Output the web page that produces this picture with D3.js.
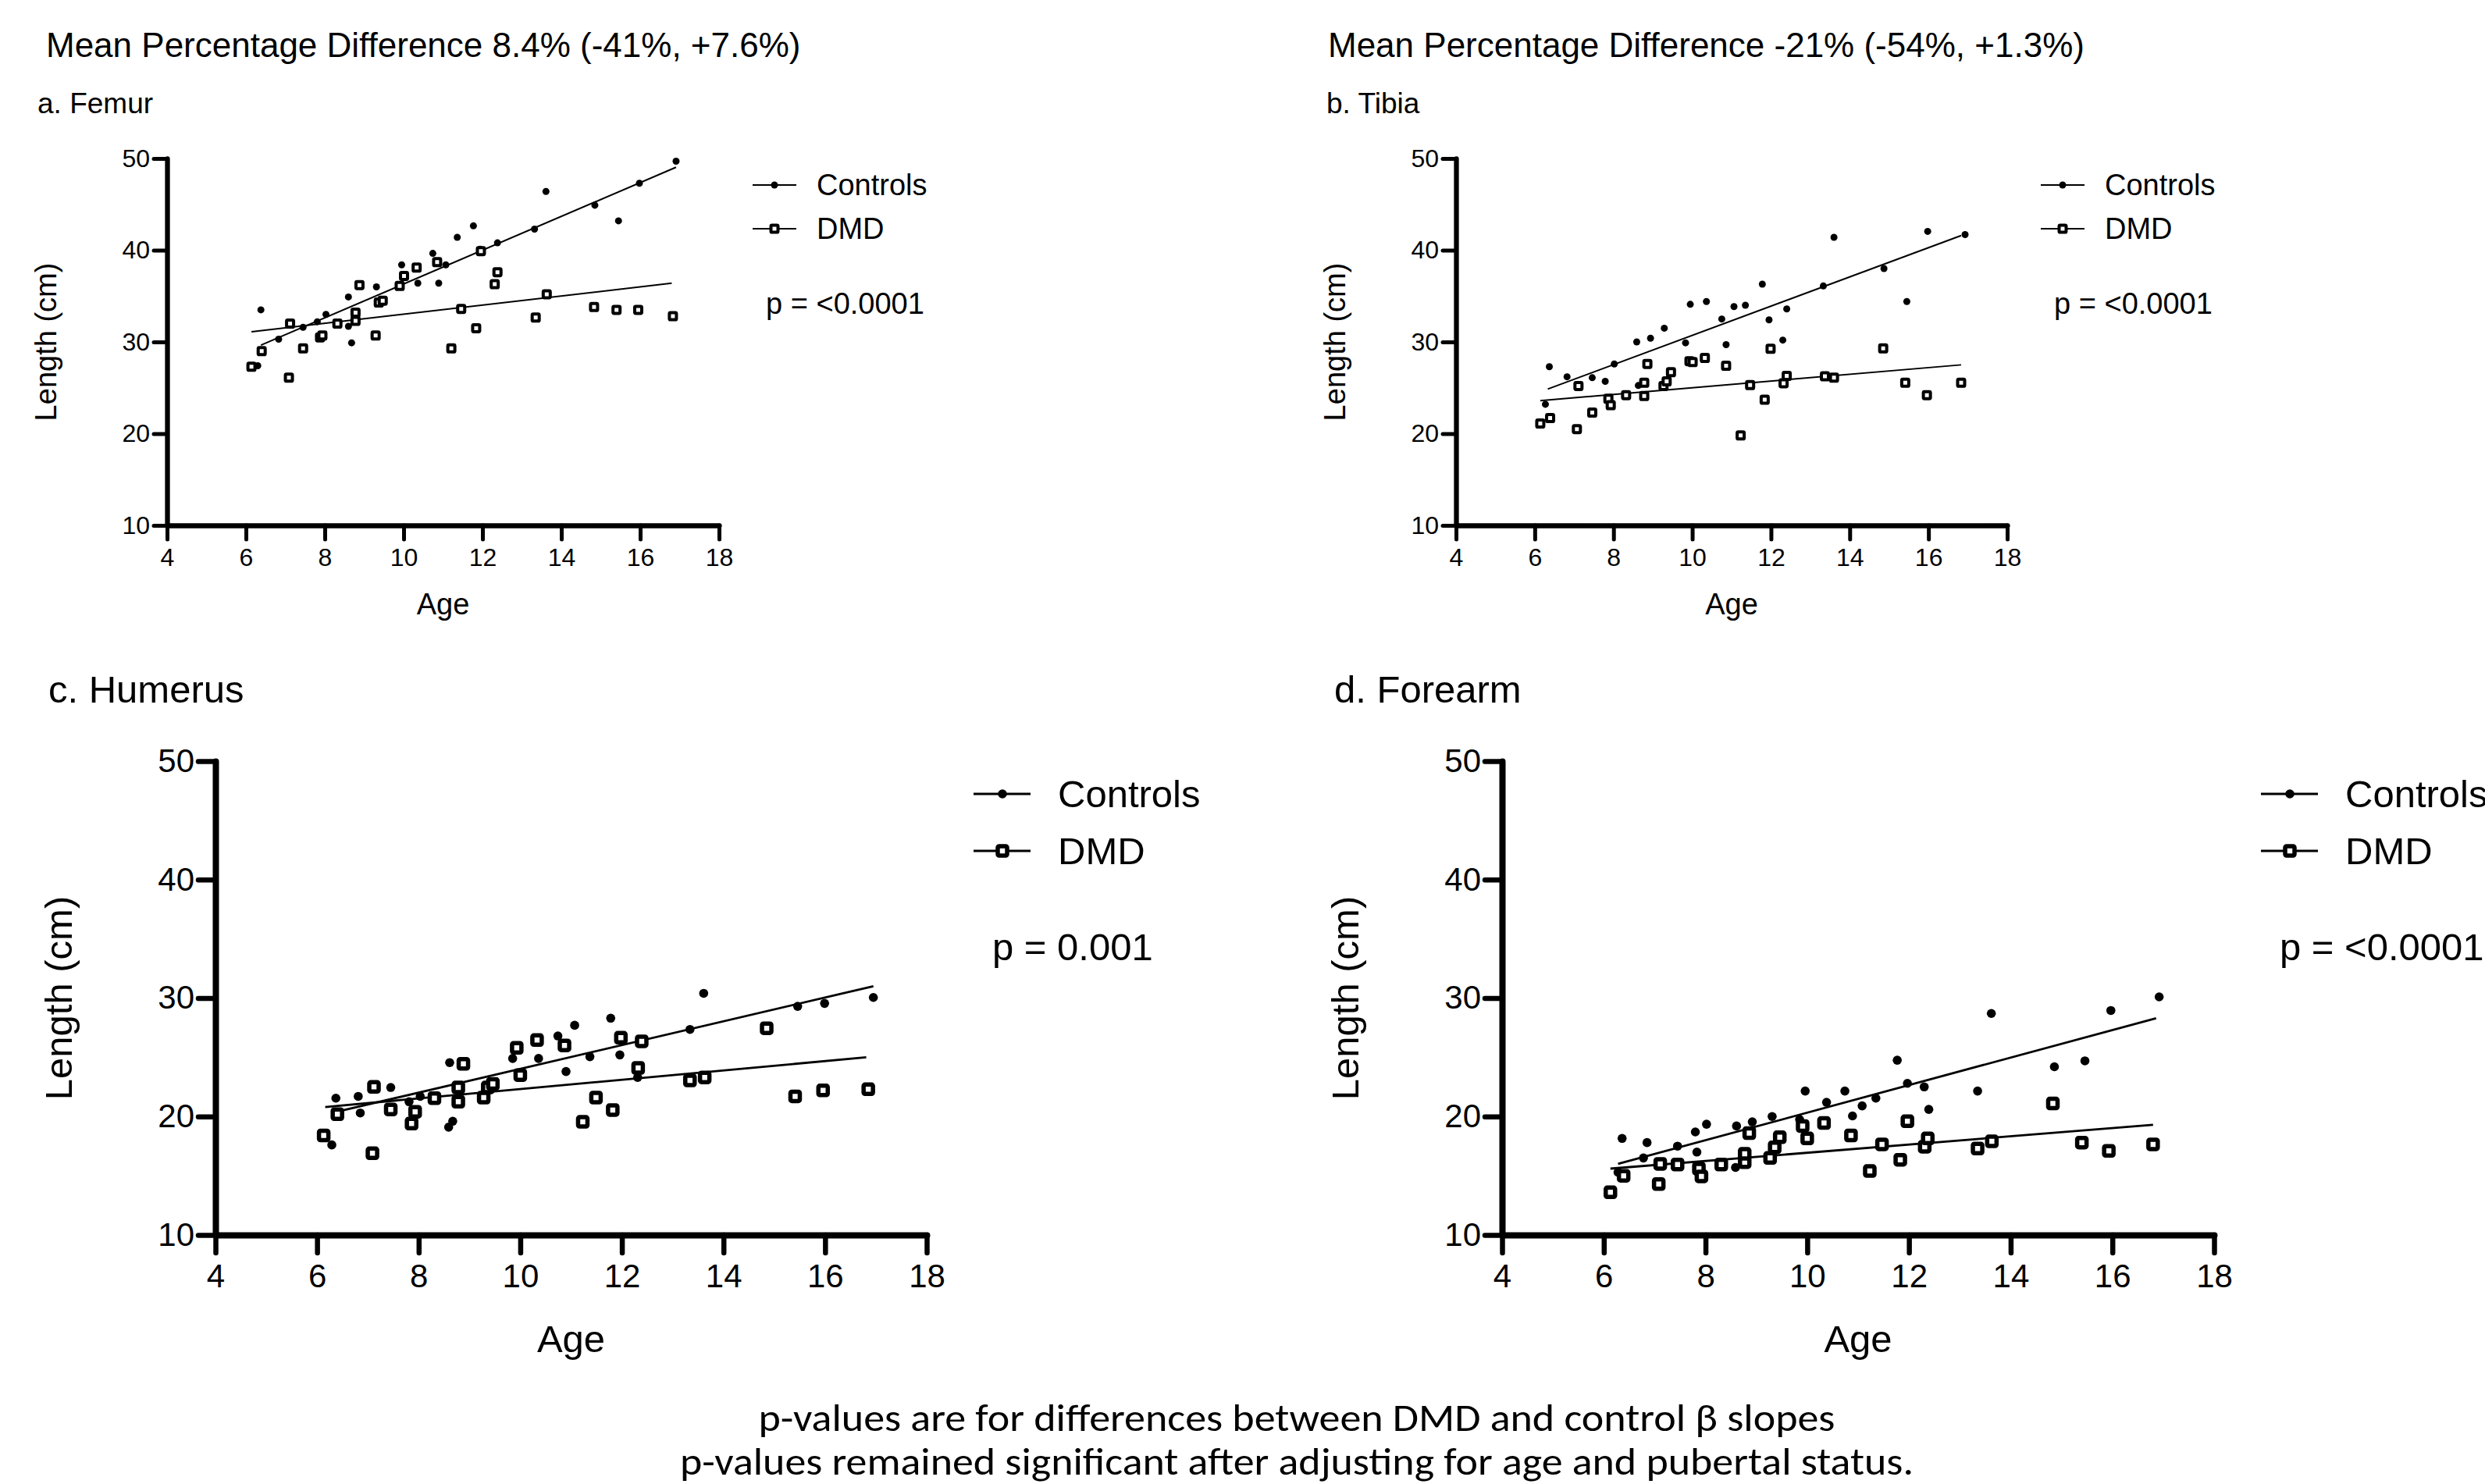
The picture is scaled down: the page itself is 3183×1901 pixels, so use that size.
<!DOCTYPE html>
<html>
<head>
<meta charset="utf-8">
<script src="https://cdn.jsdelivr.net/npm/d3@7"></script>
<style>
  body { margin: 0; background: #fff; }
  svg { display: block; }
</style>
</head>
<body>
<svg id="chart" width="3183" height="1901"></svg>
<script>
"use strict";

// ---- data: [age, length cm] ----
var xTicks = [4, 6, 8, 10, 12, 14, 16, 18];
var yTicks = [10, 20, 30, 40, 50];
var seriesNames = ["Controls", "DMD"];
var panelLabels = ["a. Femur", "b. Tibia", "c. Humerus", "d. Forearm"];
var headers = [
  "Mean Percentage Difference 8.4% (-41%, +7.6%)",
  "Mean Percentage Difference -21% (-54%, +1.3%)"
];
var pValues = ["p = <0.0001", "p = <0.0001", "p = 0.001", "p = <0.0001"];
var notes = [
  "p-values are for differences between DMD and control \u03b2 slopes",
  "p-values remained significant after adjusting for age and pubertal status."
];

var femurControls = [
  [6.3, 27.4], [6.38, 33.5], [6.83, 30.3], [7.45, 31.6], [7.81, 32.2], [8.03, 33.0],
  [8.6, 34.9], [8.6, 31.7], [8.68, 29.9], [9.31, 36.0], [9.95, 38.4], [10.36, 36.4],
  [10.74, 39.65], [10.89, 36.4], [11.07, 38.4], [11.36, 41.4], [11.77, 42.65],
  [11.94, 40.1], [12.38, 40.8], [13.32, 42.3], [13.61, 46.4], [14.85, 44.9],
  [15.45, 43.2], [15.98, 47.3], [16.91, 49.7]
];
var femurDMD = [
  [6.14, 27.3], [6.4, 29.0], [7.09, 26.1], [7.12, 32.0], [7.45, 29.3], [7.88, 30.5],
  [7.94, 30.7], [8.32, 32.0], [8.78, 32.3], [8.78, 33.2], [8.88, 36.2], [9.29, 30.7],
  [9.37, 34.3], [9.47, 34.5], [9.9, 36.1], [10.01, 37.2], [10.33, 38.1], [10.85, 38.7],
  [11.21, 29.3], [11.46, 33.6], [11.84, 31.5], [11.96, 39.9], [12.31, 36.3],
  [12.38, 37.6], [13.35, 32.65], [13.63, 35.2], [14.83, 33.8], [15.4, 33.5],
  [15.95, 33.5], [16.83, 32.8]
];
var femurFitControls = [[6.38, 29.65], [16.91, 49.04]];
var femurFitDMD = [[6.14, 31.1], [16.8, 36.4]];

var tibiaControls = [
  [6.37, 27.3], [6.27, 23.2], [6.82, 26.2], [7.46, 26.1], [7.79, 25.7], [8.02, 27.6],
  [8.59, 30.0], [8.63, 25.25], [8.94, 30.4], [9.29, 31.5], [9.83, 29.9], [9.95, 34.1],
  [10.36, 34.4], [10.75, 32.5], [10.86, 29.7], [11.06, 33.85], [11.35, 34.0],
  [11.78, 36.3], [11.95, 32.4], [12.3, 30.2], [12.4, 33.6], [13.33, 36.1],
  [13.6, 41.4], [14.87, 38.0], [15.45, 34.4], [15.98, 42.05], [16.93, 41.7]
];
var tibiaDMD = [
  [6.14, 21.1], [6.39, 21.7], [7.07, 20.5], [7.11, 25.2], [7.46, 22.3], [7.87, 23.8],
  [7.93, 23.1], [8.32, 24.2], [8.78, 24.1], [8.78, 25.55], [8.86, 27.6], [9.27, 25.2],
  [9.35, 25.7], [9.46, 26.7], [9.93, 27.9], [10.01, 27.8], [10.32, 28.25],
  [10.86, 27.4], [11.23, 19.8], [11.47, 25.3], [11.84, 23.7], [11.99, 29.25],
  [12.32, 25.5], [12.4, 26.3], [13.37, 26.25], [13.6, 26.1], [14.85, 29.3],
  [15.41, 25.55], [15.96, 24.2], [16.83, 25.55]
];
var tibiaFitControls = [[6.33, 24.86], [16.83, 41.6]];
var tibiaFitDMD = [[6.14, 23.6], [16.83, 27.5]];

var humerusControls = [
  [6.37, 21.55], [6.29, 17.6], [6.81, 21.7], [6.85, 20.3], [7.45, 22.45], [7.81, 21.25],
  [8.03, 21.7], [8.61, 24.55], [8.59, 19.1], [8.67, 19.6], [9.85, 24.9], [10.36, 24.9],
  [10.74, 26.8], [10.9, 23.8], [11.07, 27.7], [11.37, 25.05], [11.78, 28.3],
  [11.96, 25.2], [12.31, 23.3], [13.34, 27.35], [13.61, 30.4], [15.46, 29.3],
  [15.99, 29.55], [16.95, 30.05]
];
var humerusDMD = [
  [6.13, 18.4], [6.4, 20.2], [7.09, 16.9], [7.12, 22.5], [7.45, 20.6], [7.86, 19.4],
  [7.93, 20.4], [8.31, 21.55], [8.78, 21.25], [8.78, 22.45], [8.88, 24.45], [9.28, 21.6],
  [9.36, 22.45], [9.46, 22.75], [9.93, 25.8], [10.0, 23.5], [10.33, 26.45],
  [10.87, 26.0], [11.23, 19.55], [11.49, 21.6], [11.82, 20.55], [11.98, 26.65],
  [12.32, 24.1], [12.39, 26.35], [13.34, 23.05], [13.63, 23.3], [14.85, 27.45],
  [15.41, 21.7], [15.96, 22.2], [16.85, 22.3]
];
var humerusFitControls = [[6.29, 20.3], [16.95, 31.0]];
var humerusFitDMD = [[6.16, 20.8], [16.81, 25.0]];

var forearmControls = [
  [6.36, 18.15], [6.28, 15.3], [6.78, 16.5], [6.85, 17.8], [7.45, 17.5], [7.8, 18.7],
  [7.83, 17.0], [8.02, 19.35], [8.59, 15.7], [8.61, 19.2], [8.92, 19.55], [9.31, 20.0],
  [9.85, 19.75], [9.96, 22.15], [10.38, 21.2], [10.74, 22.15], [10.89, 20.05],
  [11.08, 20.9], [11.35, 21.55], [11.77, 24.75], [11.97, 22.8], [12.3, 22.5],
  [12.39, 20.6], [13.35, 22.15], [13.62, 28.7], [14.86, 24.2], [15.46, 24.7],
  [15.97, 28.95], [16.92, 30.1]
];
var forearmDMD = [
  [6.13, 13.6], [6.39, 15.0], [7.08, 14.3], [7.11, 16.0], [7.45, 15.95], [7.87, 15.6],
  [7.92, 14.95], [8.31, 15.95], [8.77, 16.15], [8.77, 16.85], [8.86, 18.6], [9.27, 16.5],
  [9.36, 17.4], [9.46, 18.25], [9.91, 19.2], [10.0, 18.15], [10.33, 19.45],
  [10.86, 18.4], [11.23, 15.4], [11.47, 17.65], [11.83, 16.35], [11.97, 19.6],
  [12.31, 17.45], [12.37, 18.15], [13.35, 17.3], [13.63, 17.9], [14.83, 21.1],
  [15.4, 17.8], [15.93, 17.1], [16.8, 17.65]
];
var forearmFitControls = [[6.28, 16.0], [16.86, 28.3]];
var forearmFitDMD = [[6.13, 15.6], [16.8, 19.3]];

// ---- look ----
var FONT = "'Liberation Sans', Arial, Helvetica, sans-serif";

var small = {
  tick: 17, tickW: 5, axisW: 6.3, tickFont: 32, labelFont: 38, legendFont: 38,
  r: 4.5, sq: 9, sqW: 4, fitW: 2, yPad: 5, xPad: 11,
  yLabOff: 142, xLabOff: 114, labelFontTitle: 37,
  leg: { l0: 43, l1: 99, m: 71, t: 125, r0: 34, r1: 90, px: 60, py: 199 }
};
var large = {
  tick: 22, tickW: 6.5, axisW: 8, tickFont: 42, labelFont: 49, legendFont: 49,
  r: 5.8, sq: 12, sqW: 5.5, fitW: 2.8, yPad: 5, xPad: 14,
  yLabOff: 184, xLabOff: 150, labelFontTitle: 49,
  leg: { l0: 60, l1: 133, m: 97, t: 168, r0: 42, r1: 115, px: 84, py: 255 }
};

var panels = [
  { left: 214, right: 921, top: 203, bottom: 673, st: small, lab: [48, 145],
    controls: femurControls, dmd: femurDMD, fitC: femurFitControls, fitD: femurFitDMD },
  { left: 1865, right: 2571, top: 203, bottom: 673, st: small, lab: [1699, 145],
    controls: tibiaControls, dmd: tibiaDMD, fitC: tibiaFitControls, fitD: tibiaFitDMD },
  { left: 276, right: 1187, top: 975, bottom: 1582, st: large, lab: [62, 900],
    controls: humerusControls, dmd: humerusDMD, fitC: humerusFitControls, fitD: humerusFitDMD },
  { left: 1924, right: 2836, top: 975, bottom: 1582, st: large, lab: [1709, 900],
    controls: forearmControls, dmd: forearmDMD, fitC: forearmFitControls, fitD: forearmFitDMD }
];

var svg = d3.select("#chart");
svg.append("rect").attr("width", 3183).attr("height", 1901).attr("fill", "#fff");

function dotMarker(g, cx, cy, st) {
  g.append("circle").attr("cx", cx).attr("cy", cy).attr("r", st.r).attr("fill", "#000");
}
function squareMarker(g, cx, cy, st) {
  g.append("rect")
    .attr("x", cx - st.sq / 2).attr("y", cy - st.sq / 2)
    .attr("width", st.sq).attr("height", st.sq)
    .attr("rx", st.sq * 0.15)
    .attr("fill", "#fff").attr("stroke", "#000").attr("stroke-width", st.sqW);
}

function drawPanel(p, i) {
  var st = p.st;
  var g = svg.append("g").attr("class", "panel");
  var x = d3.scaleLinear().domain([4, 18]).range([p.left, p.right]);
  var y = d3.scaleLinear().domain([10, 50]).range([p.bottom, p.top]);

  // panel label
  g.append("text").attr("x", p.lab[0]).attr("y", p.lab[1])
    .attr("font-family", FONT).attr("font-size", st.labelFontTitle)
    .text(panelLabels[i]);

  // axes
  var ya = g.append("g").attr("transform", "translate(" + p.left + ",0)")
    .call(d3.axisLeft(y).tickValues(yTicks).tickSize(st.tick).tickSizeOuter(0).tickPadding(st.yPad));
  var xa = g.append("g").attr("transform", "translate(0," + p.bottom + ")")
    .call(d3.axisBottom(x).tickValues(xTicks).tickSize(st.tick + 1).tickSizeOuter(0).tickPadding(st.xPad));
  [ya, xa].forEach(function (a) {
    a.attr("font-family", FONT).attr("font-size", st.tickFont);
    a.select(".domain").attr("stroke", "#000").attr("stroke-width", st.axisW)
      .attr("stroke-linecap", "round");
    a.selectAll(".tick line").attr("stroke", "#000").attr("stroke-width", st.tickW)
      .attr("stroke-linecap", "round");
    a.selectAll(".tick text").attr("fill", "#000");
  });

  // axis titles
  g.append("text")
    .attr("transform", "translate(" + (p.left - st.yLabOff) + "," + ((p.top + p.bottom) / 2) + ") rotate(-90)")
    .attr("text-anchor", "middle")
    .attr("font-family", FONT).attr("font-size", st.labelFont)
    .text("Length (cm)");
  g.append("text")
    .attr("x", (p.left + p.right) / 2).attr("y", p.bottom + st.xLabOff)
    .attr("text-anchor", "middle")
    .attr("font-family", FONT).attr("font-size", st.labelFont)
    .text("Age");

  // regression lines
  var line = d3.line().x(function (d) { return x(d[0]); }).y(function (d) { return y(d[1]); });
  [p.fitC, p.fitD].forEach(function (f) {
    g.append("path").datum(f).attr("d", line)
      .attr("fill", "none").attr("stroke", "#000").attr("stroke-width", st.fitW);
  });

  // points
  g.append("g").selectAll("circle").data(p.controls).join("circle")
    .attr("cx", function (d) { return x(d[0]); })
    .attr("cy", function (d) { return y(d[1]); })
    .attr("r", st.r).attr("fill", "#000");
  g.append("g").selectAll("rect").data(p.dmd).join("rect")
    .attr("x", function (d) { return x(d[0]) - st.sq / 2; })
    .attr("y", function (d) { return y(d[1]) - st.sq / 2; })
    .attr("width", st.sq).attr("height", st.sq).attr("rx", st.sq * 0.15)
    .attr("fill", "#fff").attr("stroke", "#000").attr("stroke-width", st.sqW);

  // legend
  var L = st.leg;
  seriesNames.forEach(function (name, k) {
    var ry = p.top + (k === 0 ? L.r0 : L.r1);
    g.append("line").attr("x1", p.right + L.l0).attr("x2", p.right + L.l1)
      .attr("y1", ry).attr("y2", ry).attr("stroke", "#000").attr("stroke-width", st.fitW);
    if (k === 0) dotMarker(g, p.right + L.m, ry, st);
    else squareMarker(g, p.right + L.m, ry, st);
    g.append("text").attr("x", p.right + L.t).attr("y", ry).attr("dy", "0.35em")
      .attr("font-family", FONT).attr("font-size", st.legendFont).text(name);
  });
  g.append("text").attr("x", p.right + L.px).attr("y", p.top + L.py)
    .attr("font-family", FONT).attr("font-size", st.legendFont).text(pValues[i]);
}

panels.forEach(drawPanel);

// header lines above the top panels
svg.append("text").attr("x", 59).attr("y", 73)
  .attr("font-family", FONT).attr("font-size", 44).text(headers[0]);
svg.append("text").attr("x", 1701).attr("y", 73)
  .attr("font-family", FONT).attr("font-size", 44).text(headers[1]);

// footnote
var noteY = [1833, 1889];
var noteW = [1379, 1580];
notes.forEach(function (t, k) {
  svg.append("text").attr("x", 1661).attr("y", noteY[k])
    .attr("text-anchor", "middle")
    .attr("font-family", "Carlito, Calibri, Lato, sans-serif").attr("font-size", 50)
    .attr("textLength", noteW[k]).attr("lengthAdjust", "spacingAndGlyphs")
    .text(t);
});
</script>
</body>
</html>
